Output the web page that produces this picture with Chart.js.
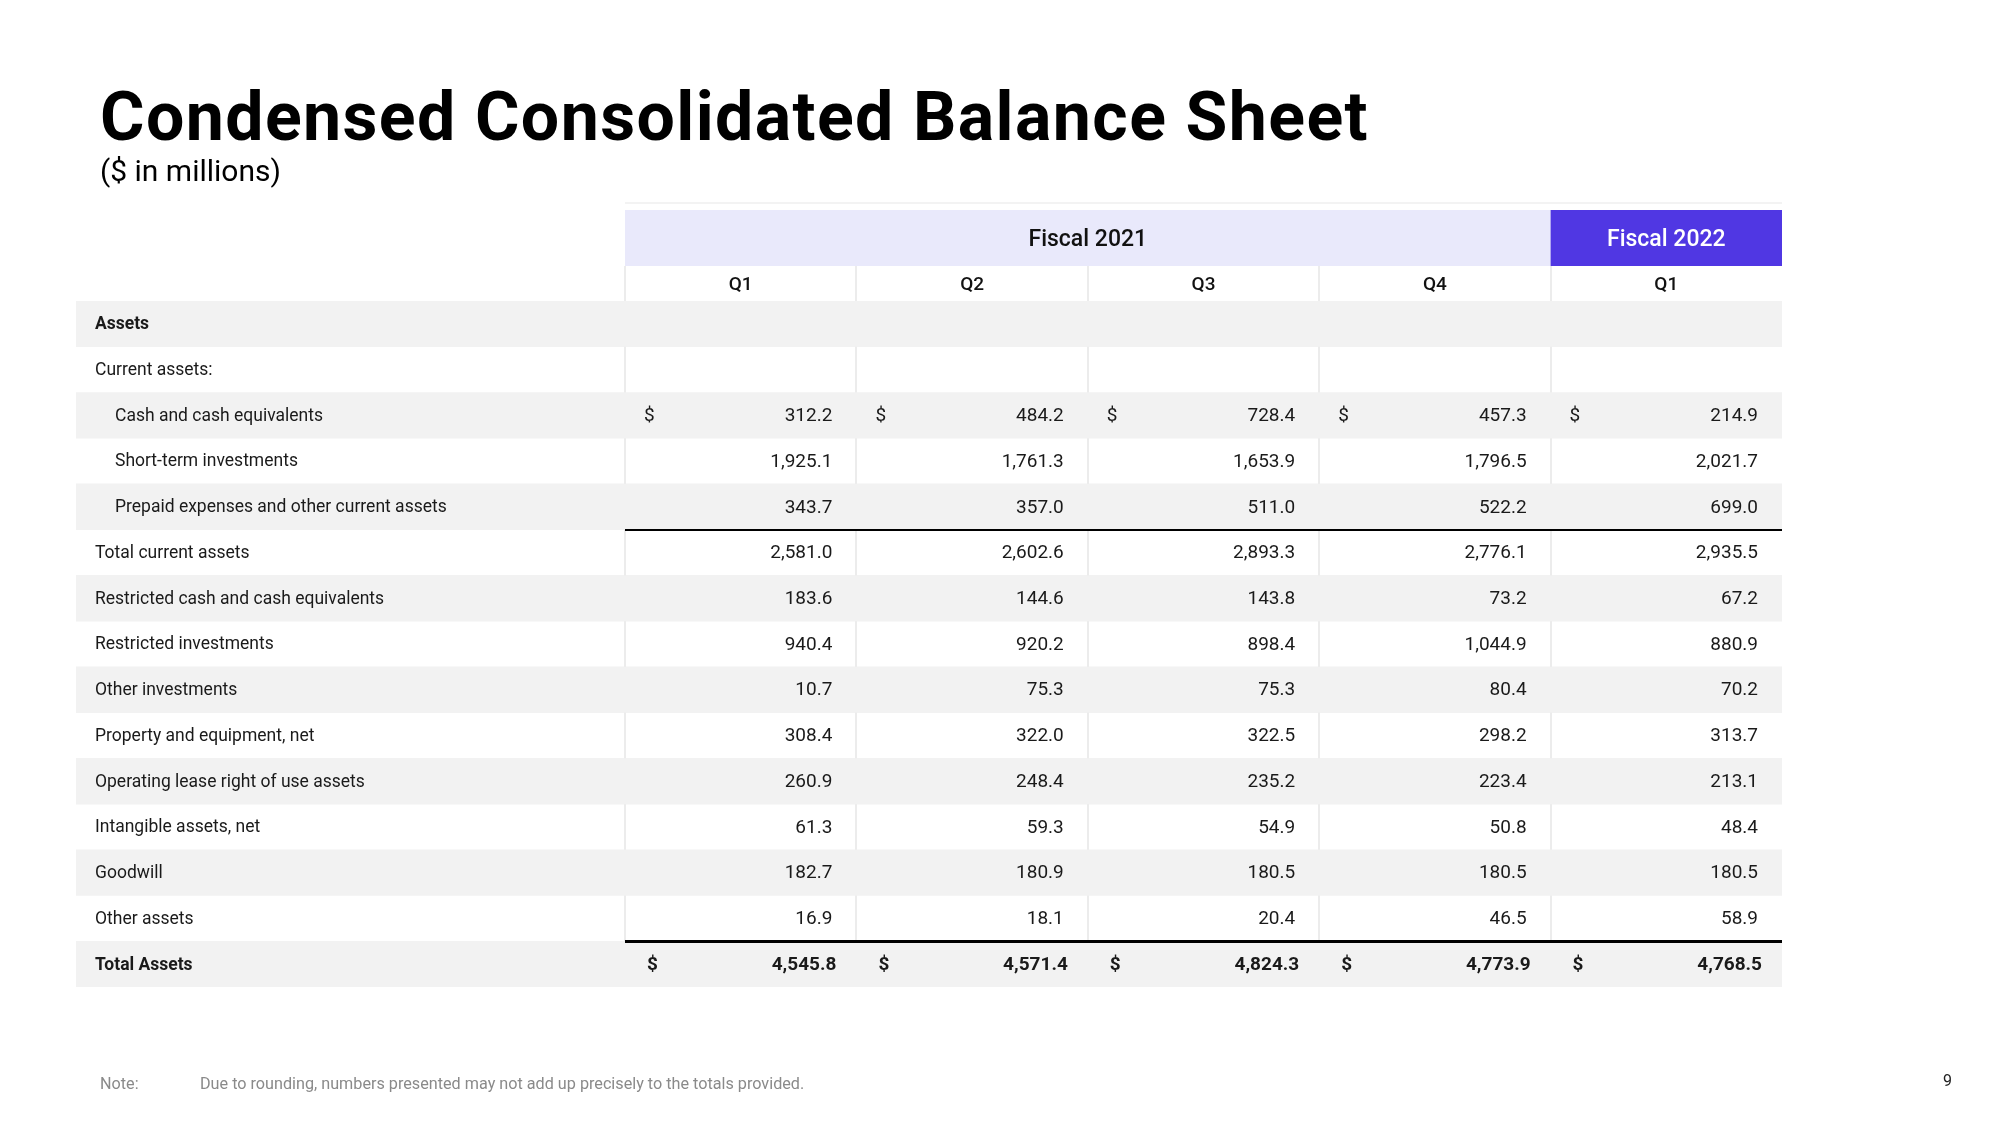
<!DOCTYPE html>
<html>
<head>
<meta charset="utf-8">
<script src="https://cdn.jsdelivr.net/npm/chart.js@4.4.0/dist/chart.umd.min.js"></script>
<style>
  html, body { margin: 0; padding: 0; background: #fff; }
  #wrap { width: 2000px; height: 1125px; position: relative; }
</style>
</head>
<body>
<div id="wrap"><canvas id="sheet"></canvas></div>
<script>
// rows of the balance sheet
const rowLabels = [
  'Assets',
  'Current assets:',
  'Cash and cash equivalents',
  'Short-term investments',
  'Prepaid expenses and other current assets',
  'Total current assets',
  'Restricted cash and cash equivalents',
  'Restricted investments',
  'Other investments',
  'Property and equipment, net',
  'Operating lease right of use assets',
  'Intangible assets, net',
  'Goodwill',
  'Other assets',
  'Total Assets'
];

const fiscalYears = ['Fiscal 2021', 'Fiscal 2022'];
const fiscalQuarterCount = [4, 1];
const quarters = ['Q1', 'Q2', 'Q3', 'Q4', 'Q1'];

// $ in millions, one array per quarter
const fy21q1 = [null, null, 312.2, 1925.1, 343.7, 2581.0, 183.6, 940.4, 10.7, 308.4, 260.9, 61.3, 182.7, 16.9, 4545.8];
const fy21q2 = [null, null, 484.2, 1761.3, 357.0, 2602.6, 144.6, 920.2, 75.3, 322.0, 248.4, 59.3, 180.9, 18.1, 4571.4];
const fy21q3 = [null, null, 728.4, 1653.9, 511.0, 2893.3, 143.8, 898.4, 75.3, 322.5, 235.2, 54.9, 180.5, 20.4, 4824.3];
const fy21q4 = [null, null, 457.3, 1796.5, 522.2, 2776.1, 73.2, 1044.9, 80.4, 298.2, 223.4, 50.8, 180.5, 46.5, 4773.9];
const fy22q1 = [null, null, 214.9, 2021.7, 699.0, 2935.5, 67.2, 880.9, 70.2, 313.7, 213.1, 48.4, 180.5, 58.9, 4768.5];
const columns = [fy21q1, fy21q2, fy21q3, fy21q4, fy22q1];

const indentRows = [2, 3, 4];
const boldRows = [0, 14];
const dollarRows = [2, 14];
const subtotalRuleAfter = 4;
const totalRuleAfter = 13;

const FONT = 'Roboto, "Noto Sans", sans-serif';
const LABEL_MIN = -2.3725; // label column lives left of x = 0

const fmt = v => v.toLocaleString('en-US', { minimumFractionDigits: 1, maximumFractionDigits: 1 });

const tablePlugin = {
  id: 'tablePlugin',
  beforeDatasetsDraw(chart) {
    const { ctx, chartArea } = chart;
    const x = chart.scales.x;
    const top = chartArea.top;

    // header bands
    let start = 0;
    fiscalYears.forEach((name, i) => {
      const x0 = x.getPixelForValue(start);
      const x1 = x.getPixelForValue(start + fiscalQuarterCount[i]);
      ctx.fillStyle = i === 0 ? '#e9e9fb' : '#5037e3';
      ctx.fillRect(x0, top - 91, x1 - x0, 56);
      start += fiscalQuarterCount[i];
    });
    ctx.fillStyle = '#f3f3f3';
    ctx.fillRect(x.getPixelForValue(0), top - 99, x.getPixelForValue(5) - x.getPixelForValue(0), 2);
  },
  afterDatasetsDraw(chart) {
    const { ctx, chartArea } = chart;
    const x = chart.scales.x, y = chart.scales.y;
    const rowH = y.getPixelForValue(1) - y.getPixelForValue(0);
    const top = chartArea.top;

    // light column separators in white rows and the quarter header row
    ctx.fillStyle = '#ececec';
    const sep = (y0, h) => {
      for (let c = 0; c <= 4; c++) {
        ctx.fillRect(Math.round(x.getPixelForValue(c)) - 1, y0, 2, h);
      }
    };
    sep(top - 35, 35);
    rowLabels.forEach((_, i) => {
      if (i % 2 === 1) sep(y.getPixelForValue(i) - rowH / 2, rowH);
    });

    // black rules above subtotal and total
    ctx.fillStyle = '#000';
    const x0 = x.getPixelForValue(0), x1 = x.getPixelForValue(5);
    const ySub = y.getPixelForValue(subtotalRuleAfter) + rowH / 2;
    ctx.fillRect(x0, Math.round(ySub) - 1, x1 - x0, 2);
    const yTot = y.getPixelForValue(totalRuleAfter) + rowH / 2;
    ctx.fillRect(x0, Math.round(yTot) - 1, x1 - x0, 3);
  },
  afterDraw(chart) {
    const { ctx, chartArea } = chart;
    const x = chart.scales.x, y = chart.scales.y;
    const top = chartArea.top;
    ctx.save();

    // title block
    ctx.fillStyle = '#000';
    ctx.textAlign = 'left';
    ctx.textBaseline = 'alphabetic';
    ctx.font = '700 68px ' + FONT;
    ctx.letterSpacing = '1.4px';
    ctx.fillText('Condensed Consolidated Balance Sheet', 100, 140);
    ctx.letterSpacing = '0px';
    ctx.font = '400 30px ' + FONT;
    ctx.fillText('($ in millions)', 100, 181);
    ctx.textBaseline = 'middle';

    // fiscal year headers
    let start = 0;
    ctx.textAlign = 'center';
    ctx.font = '500 23px ' + FONT;
    fiscalYears.forEach((name, i) => {
      const mid = x.getPixelForValue(start + fiscalQuarterCount[i] / 2);
      ctx.fillStyle = i === 0 ? '#111' : '#fff';
      ctx.fillText(name, mid, top - 61);
      start += fiscalQuarterCount[i];
    });

    // quarter headers
    ctx.fillStyle = '#111';
    ctx.font = '500 19px ' + FONT;
    quarters.forEach((q, c) => {
      ctx.fillText(q, x.getPixelForValue(c + 0.5), top - 16);
    });

    // row labels and values
    rowLabels.forEach((label, i) => {
      const cy = y.getPixelForValue(i) + 1;
      const bold = boldRows.includes(i);
      ctx.fillStyle = '#1a1a1a';
      ctx.textAlign = 'left';
      ctx.font = (bold ? '700 ' : '400 ') + '17.5px ' + FONT;
      const lx = x.getPixelForValue(LABEL_MIN) + (indentRows.includes(i) ? 39 : 19);
      ctx.fillText(label, lx, cy);

      ctx.font = (bold ? '700 ' : '400 ') + '19px ' + FONT;
      columns.forEach((col, c) => {
        const v = col[i];
        if (v === null) return;
        if (dollarRows.includes(i)) {
          ctx.textAlign = 'left';
          ctx.fillText('$', x.getPixelForValue(c) + (bold ? 22 : 19), cy);
        }
        ctx.textAlign = 'right';
        ctx.fillText(fmt(v), x.getPixelForValue(c + 1) - (bold ? 20 : 24), cy);
      });
    });

    // footnote and page number
    ctx.fillStyle = '#8a8a8a';
    ctx.textAlign = 'left';
    ctx.font = '400 16.2px ' + FONT;
    ctx.fillText('Note:', 100, 1085);
    ctx.fillText('Due to rounding, numbers presented may not add up precisely to the totals provided.', 200, 1085);
    ctx.fillStyle = '#222';
    ctx.font = '400 16px ' + FONT;
    ctx.fillText('9', 1943, 1082);
    ctx.restore();
  }
};

new Chart(document.getElementById('sheet'), {
  type: 'bar',
  data: {
    labels: rowLabels,
    datasets: [{
      label: 'row shading',
      data: rowLabels.map((_, i) => (i % 2 === 0 ? [LABEL_MIN, 5] : null)),
      backgroundColor: '#f2f2f2',
      borderWidth: 0,
      barPercentage: 1,
      categoryPercentage: 1
    }]
  },
  options: {
    indexAxis: 'y',
    responsive: true,
    maintainAspectRatio: false,
    animation: false,
    devicePixelRatio: 1,
    layout: { padding: { left: 76, right: 218, top: 301, bottom: 138 } },
    scales: {
      x: { type: 'linear', min: LABEL_MIN, max: 5, display: false },
      y: { type: 'category', display: false }
    },
    plugins: {
      legend: { display: false },
      tooltip: { enabled: false }
    }
  },
  plugins: [tablePlugin]
});
</script>
</body>
</html>
